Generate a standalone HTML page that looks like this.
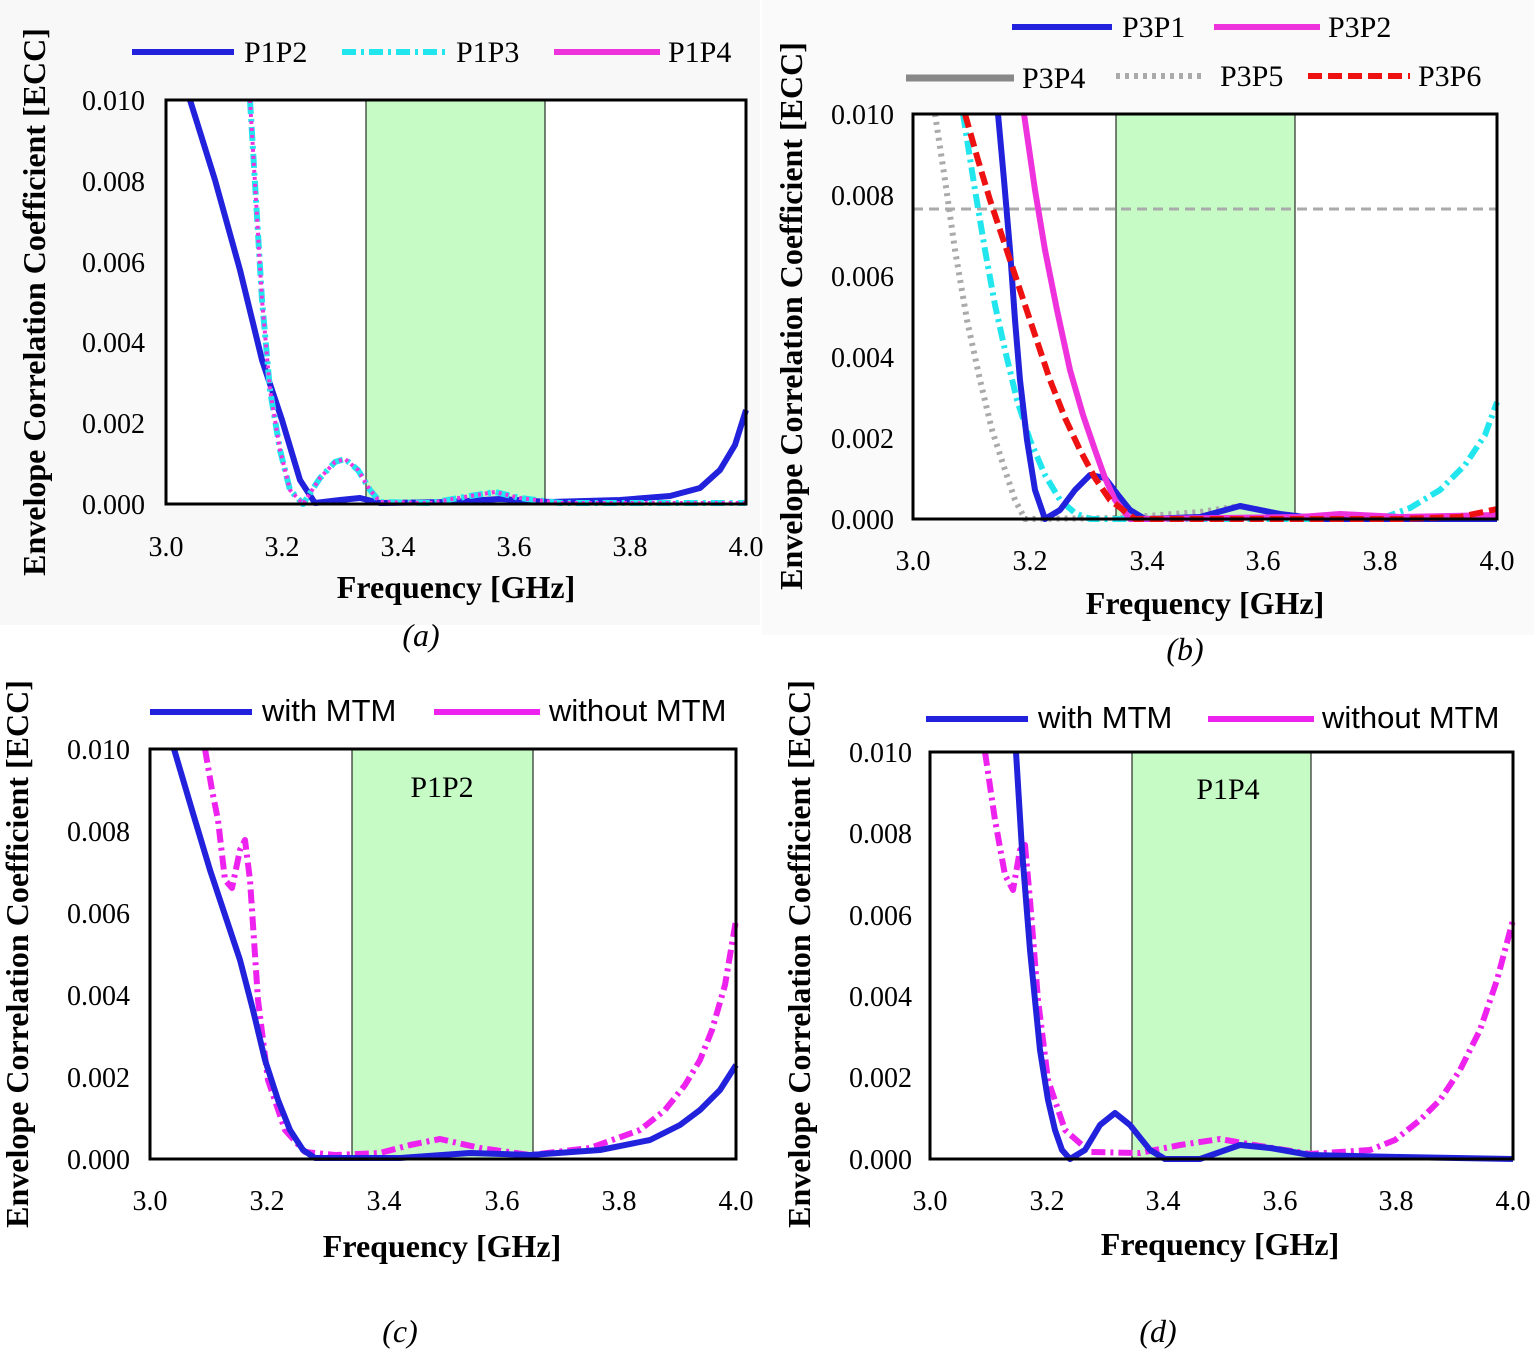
<!DOCTYPE html>
<html><head><meta charset="utf-8"><style>
html,body{margin:0;padding:0;background:#fff}
svg{display:block}
.t{font-family:"Liberation Serif",serif;font-size:28px;fill:#000}
.ax{font-family:"Liberation Serif",serif;font-size:32px;font-weight:bold;fill:#000}
.yl{font-family:"Liberation Serif",serif;font-size:32px;font-weight:bold;fill:#000}
.lg{font-family:"Liberation Serif",serif;font-size:30px;fill:#000}
.ls{font-family:"Liberation Sans",sans-serif;font-size:31px;fill:#000}
.cap{font-family:"Liberation Serif",serif;font-size:32px;font-style:italic;fill:#000}
polyline{stroke-linejoin:round}
</style></head><body>
<svg width="1534" height="1353" viewBox="0 0 1534 1353" xmlns="http://www.w3.org/2000/svg">
<rect x="0" y="0" width="760" height="625" fill="#f8f8f8"/>
<rect x="762" y="0" width="772" height="635" fill="#fafafa"/>

<!-- Panel a -->
<rect x="166" y="100" width="580" height="404" fill="#fff"/>
<rect x="366" y="100" width="179" height="404" fill="#c6fbc6" stroke="#000" stroke-width="1"/>
<polyline fill="none" stroke="#2222dd" stroke-width="6" points="190,100 215,180 240,270 262,360 282,420 300,480 315,503 340,500 360,498 380,503 450,502 500,499 550,502 620,500 670,496 700,488 720,470 735,445 746,410"/>
<polyline fill="none" stroke="#22e6ee" stroke-width="6" stroke-dasharray="14,5,3,5" points="250,100 256,200 262,300 270,390 280,450 290,490 303,504 320,478 335,462 345,459 358,470 370,490 380,502 430,503 470,496 495,492 520,498 560,503 746,503"/>
<polyline fill="none" stroke="#ee33dd" stroke-width="4" stroke-dasharray="3,4" points="250,100 256,200 262,300 270,390 280,450 290,490 303,504 320,478 335,462 345,459 358,470 370,490 380,502 430,503 470,496 495,492 520,498 560,503 746,503"/>
<rect x="166" y="100" width="580" height="404" fill="none" stroke="#000" stroke-width="3"/>
<g class="t" text-anchor="end"><text x="145" y="110">0.010</text><text x="145" y="191">0.008</text><text x="145" y="272">0.006</text><text x="145" y="352">0.004</text><text x="145" y="433">0.002</text><text x="145" y="514">0.000</text></g>
<g class="t" text-anchor="middle"><text x="166" y="556">3.0</text><text x="282" y="556">3.2</text><text x="398" y="556">3.4</text><text x="514" y="556">3.6</text><text x="630" y="556">3.8</text><text x="746" y="556">4.0</text></g>
<text class="ax" x="456" y="598" text-anchor="middle">Frequency [GHz]</text>
<text class="yl" transform="translate(45,302) rotate(-90)" text-anchor="middle">Envelope Correlation Coefficient [ECC]</text>
<line x1="132" y1="52" x2="234" y2="52" stroke="#2222dd" stroke-width="6"/><text class="lg" x="244" y="62">P1P2</text>
<line x1="342" y1="52" x2="446" y2="52" stroke="#22e6ee" stroke-width="6" stroke-dasharray="14,5,3,5"/><text class="lg" x="456" y="62">P1P3</text>
<line x1="554" y1="52" x2="660" y2="52" stroke="#ee33dd" stroke-width="6"/><text class="lg" x="668" y="62">P1P4</text>
<text class="cap" x="421" y="646" text-anchor="middle">(a)</text>

<!-- Panel b -->
<rect x="913" y="114" width="584" height="405" fill="#fff"/>
<rect x="1116" y="114" width="179" height="405" fill="#c6fbc6" stroke="#000" stroke-width="1"/>
<line x1="913" y1="209" x2="1497" y2="209" stroke="#aaa" stroke-width="3" stroke-dasharray="10,6"/>
<polyline fill="none" stroke="#aaa" stroke-width="6" stroke-dasharray="3,5" points="935,114 945,180 955,250 967,320 980,380 992,430 1005,470 1015,500 1025,519 1120,518 1200,512 1240,506 1280,514 1330,519 1497,519"/>
<polyline fill="none" stroke="#22e6ee" stroke-width="6" stroke-dasharray="14,5,3,5" points="963,114 975,190 985,250 995,305 1005,350 1017,400 1030,440 1045,475 1060,500 1075,513 1090,519 1380,519 1410,508 1440,490 1465,465 1485,435 1497,402"/>
<polyline fill="none" stroke="#2222dd" stroke-width="6" points="998,114 1004,180 1010,250 1015,320 1020,380 1027,440 1035,490 1045,519 1060,510 1075,490 1090,475 1105,478 1118,495 1130,510 1145,519 1200,517 1240,506 1280,514 1320,519 1497,519"/>
<polyline fill="none" stroke="#ee33dd" stroke-width="6" points="1024,114 1035,190 1045,250 1057,310 1070,370 1083,415 1095,450 1105,478 1115,500 1130,519 1300,517 1340,514 1400,517 1497,515"/>
<polyline fill="none" stroke="#ee1111" stroke-width="6" stroke-dasharray="14,6" points="965,114 978,160 990,200 1005,245 1020,290 1035,335 1050,380 1065,418 1080,450 1095,478 1110,500 1135,519 1400,519 1460,517 1497,509"/>
<rect x="913" y="114" width="584" height="405" fill="none" stroke="#000" stroke-width="3"/>
<g class="t" text-anchor="end"><text x="894" y="124">0.010</text><text x="894" y="205">0.008</text><text x="894" y="286">0.006</text><text x="894" y="367">0.004</text><text x="894" y="448">0.002</text><text x="894" y="529">0.000</text></g>
<g class="t" text-anchor="middle"><text x="913" y="570">3.0</text><text x="1030" y="570">3.2</text><text x="1147" y="570">3.4</text><text x="1263" y="570">3.6</text><text x="1380" y="570">3.8</text><text x="1497" y="570">4.0</text></g>
<text class="ax" x="1205" y="614" text-anchor="middle">Frequency [GHz]</text>
<text class="yl" transform="translate(802,316) rotate(-90)" text-anchor="middle">Envelope Correlation Coefficient [ECC]</text>
<line x1="1012" y1="27" x2="1112" y2="27" stroke="#2222dd" stroke-width="6"/><text class="lg" x="1122" y="37">P3P1</text>
<line x1="1214" y1="27" x2="1320" y2="27" stroke="#ee33dd" stroke-width="6"/><text class="lg" x="1328" y="37">P3P2</text>
<line x1="906" y1="78" x2="1014" y2="78" stroke="#888" stroke-width="7"/><text class="lg" x="1022" y="88">P3P4</text>
<line x1="1116" y1="76" x2="1206" y2="76" stroke="#aaa" stroke-width="6" stroke-dasharray="4,5"/><text class="lg" x="1220" y="86">P3P5</text>
<line x1="1308" y1="76" x2="1410" y2="76" stroke="#ee1111" stroke-width="6" stroke-dasharray="14,6"/><text class="lg" x="1418" y="86">P3P6</text>
<text class="cap" x="1185" y="660" text-anchor="middle">(b)</text>

<!-- Panel c -->
<rect x="352" y="749" width="181" height="410" fill="#c6fbc6" stroke="#000" stroke-width="1"/>
<text class="lg" x="442" y="797" text-anchor="middle">P1P2</text>
<polyline fill="none" stroke="#ee22ee" stroke-width="6" stroke-dasharray="14,5,3,5" points="205,749 212,790 218,820 225,880 232,888 240,850 245,840 250,880 258,1000 268,1080 285,1130 305,1152 335,1155 380,1153 410,1145 440,1139 480,1148 530,1155 590,1148 640,1130 665,1110 685,1085 700,1060 712,1030 725,985 736,920"/>
<polyline fill="none" stroke="#2222dd" stroke-width="6" points="174,749 192,810 210,870 225,915 240,960 253,1010 265,1060 278,1100 290,1130 303,1150 315,1158 330,1158 400,1158 470,1153 530,1155 600,1150 650,1140 680,1125 700,1110 720,1090 736,1065"/>
<rect x="150" y="749" width="586" height="410" fill="none" stroke="#000" stroke-width="3"/>
<g class="t" text-anchor="end"><text x="130" y="759">0.010</text><text x="130" y="841">0.008</text><text x="130" y="923">0.006</text><text x="130" y="1005">0.004</text><text x="130" y="1087">0.002</text><text x="130" y="1169">0.000</text></g>
<g class="t" text-anchor="middle"><text x="150" y="1210">3.0</text><text x="267" y="1210">3.2</text><text x="384" y="1210">3.4</text><text x="502" y="1210">3.6</text><text x="619" y="1210">3.8</text><text x="736" y="1210">4.0</text></g>
<text class="ax" x="442" y="1257" text-anchor="middle">Frequency [GHz]</text>
<text class="yl" transform="translate(28,954) rotate(-90)" text-anchor="middle">Envelope Correlation Coefficient [ECC]</text>
<line x1="150" y1="712" x2="252" y2="712" stroke="#2222dd" stroke-width="6"/><text class="ls" x="262" y="721">with MTM</text>
<line x1="434" y1="712" x2="540" y2="712" stroke="#ee22ee" stroke-width="6"/><text class="ls" x="549" y="721">without MTM</text>
<text class="cap" x="400" y="1342" text-anchor="middle">(c)</text>

<!-- Panel d -->
<rect x="1132" y="752" width="179" height="407" fill="#c6fbc6" stroke="#000" stroke-width="1"/>
<text class="lg" x="1228" y="799" text-anchor="middle">P1P4</text>
<polyline fill="none" stroke="#ee22ee" stroke-width="6" stroke-dasharray="14,5,3,5" points="985,752 995,820 1005,875 1013,890 1020,850 1025,845 1030,900 1038,1000 1048,1080 1065,1130 1090,1152 1140,1153 1180,1145 1220,1139 1260,1146 1310,1154 1370,1150 1395,1140 1420,1120 1440,1100 1460,1070 1480,1030 1497,980 1513,920"/>
<polyline fill="none" stroke="#2222dd" stroke-width="6" points="1016,752 1022,850 1030,950 1040,1050 1048,1100 1055,1130 1062,1150 1070,1159 1085,1150 1100,1125 1115,1113 1130,1125 1150,1150 1165,1159 1200,1159 1240,1145 1270,1148 1310,1155 1400,1157 1513,1159"/>
<rect x="930" y="752" width="583" height="407" fill="none" stroke="#000" stroke-width="3"/>
<g class="t" text-anchor="end"><text x="912" y="762">0.010</text><text x="912" y="843">0.008</text><text x="912" y="925">0.006</text><text x="912" y="1006">0.004</text><text x="912" y="1087">0.002</text><text x="912" y="1169">0.000</text></g>
<g class="t" text-anchor="middle"><text x="930" y="1210">3.0</text><text x="1047" y="1210">3.2</text><text x="1163" y="1210">3.4</text><text x="1280" y="1210">3.6</text><text x="1396" y="1210">3.8</text><text x="1513" y="1210">4.0</text></g>
<text class="ax" x="1220" y="1255" text-anchor="middle">Frequency [GHz]</text>
<text class="yl" transform="translate(810,954) rotate(-90)" text-anchor="middle">Envelope Correlation Coefficient [ECC]</text>
<line x1="926" y1="719" x2="1028" y2="719" stroke="#2222dd" stroke-width="6"/><text class="ls" x="1038" y="728">with MTM</text>
<line x1="1208" y1="719" x2="1314" y2="719" stroke="#ee22ee" stroke-width="6"/><text class="ls" x="1322" y="728">without MTM</text>
<text class="cap" x="1158" y="1342" text-anchor="middle">(d)</text>
</svg>
</body></html>
